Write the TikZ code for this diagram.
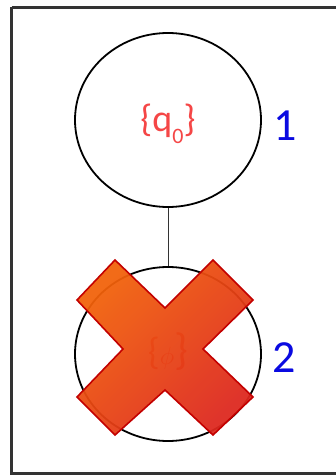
\documentclass[tikz,border=0pt]{standalone}
\usepackage{fontspec}
\setmainfont{Carlito}
\usetikzlibrary{shapes.geometric}
\definecolor{setred}{RGB}{245,70,70}
\definecolor{numblue}{RGB}{10,10,225}
\definecolor{xorange}{RGB}{242,98,10}
\definecolor{xred}{RGB}{222,40,30}
\definecolor{xedge}{RGB}{195,0,0}
\tikzset{
  state/.style={ellipse, draw=black, line width=1.8pt, minimum width=186pt, minimum height=174pt, inner sep=0pt},
  settext/.style={text=setred, font=\fontsize{38}{40}\selectfont},
  numlabel/.style={text=numblue, font=\fontsize{46}{48}\selectfont, inner sep=0pt},
  link/.style={draw=black!80, line width=1pt},
  frame/.style={draw=black!80, line width=2.6pt},
  cross/.style={draw=xedge, line width=1.6pt, left color=xorange, right color=xred, shading angle=45, fill opacity=0.94, draw opacity=1}
}
\newcommand{\lowsub}[1]{\raisebox{-0.32em}{\fontsize{22}{24}\selectfont #1}}
\begin{document}
\begin{tikzpicture}[x=1pt,y=-1pt]
\useasboundingbox (0,0) rectangle (335,476);
\fill[white] (0,0) rectangle (335,476);
\draw[frame] (11.5,7.5) -- (340,7.5) (11.5,7.5) -- (11.5,473.5) -- (340,473.5);
\node[state] (s1) at (168,120) {};
\node[settext] (t1) at (168,124) {\{q\lowsub{0}\}};
\node[numlabel] (n1) at (285,126) {1};
\node[state] (s2) at (168,354) {};
\node[settext] (t2) at (168,352) {\{\fontsize{44}{46}\selectfont$\phi$\}};
\node[numlabel] (n2) at (284,358) {2};
\draw[link] (s1.south) -- (s2.north);
\path[cross] (115,260) -- (165,308) -- (213,260) -- (253,300) -- (203,349) -- (253,397) -- (213,435) -- (165,390) -- (115,435) -- (77,397) -- (123,349) -- (77,300) -- cycle;
\end{tikzpicture}
\end{document}
